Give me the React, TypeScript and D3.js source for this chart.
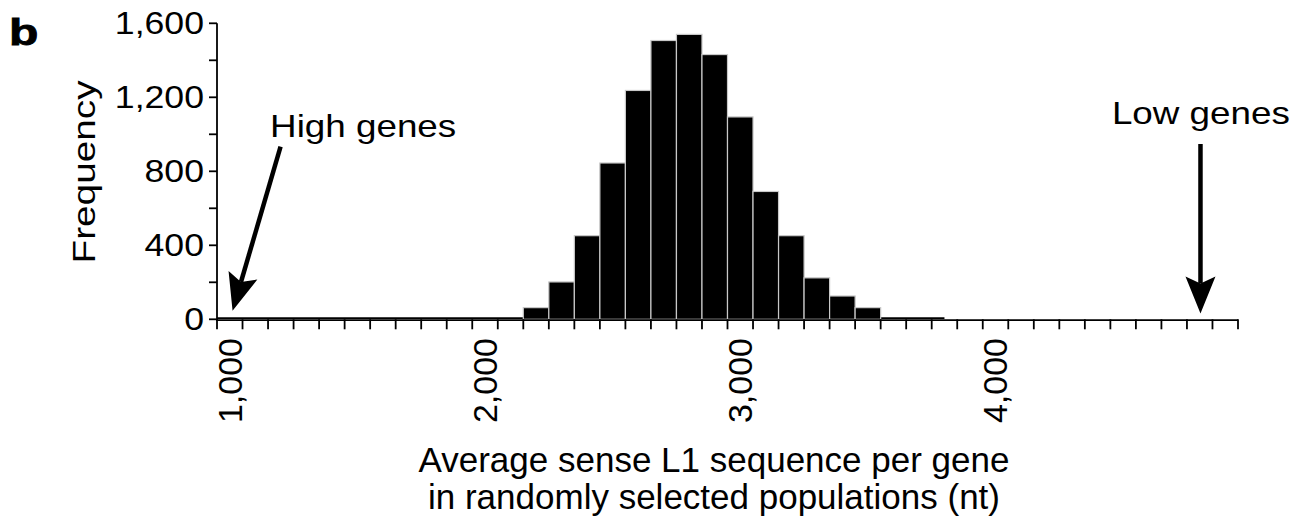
import React from 'react';
import * as d3 from 'd3';

// ---- data ----
const binStart = 950;
const binWidth = 100;
const binCounts = [0, 0, 0, 0, 0, 0, 0, 0, 0, 0, 0, 0, 63, 202, 452, 845, 1237, 1507, 1540, 1431, 1094, 691, 452, 224, 126, 63];
const histogramLineEnd = 3800;
const xDomain = [950, 4950];
const xTickStep = 100;
const xLabelValues = [1000, 2000, 3000, 4000];
const yDomain = [0, 1600];
const yTickStep = 200;
const yLabelValues = [0, 400, 800, 1200, 1600];
const xTitleLines = ['Average sense L1 sequence per gene', 'in randomly selected populations (nt)'];
const yTitle = 'Frequency';
const panelLabel = 'b';
const annotationLabels = ['High genes', 'Low genes'];
const annotationTextX = [1158, 4456];
const annotationTextY = [985, 1056];
const arrowFromX = [1199, 4803];
const arrowFromY = [933, 947];
const arrowToX = [1011, 4803];
const arrowToY = [46, 32];

const FONT = '"Liberation Sans", Arial, Helvetica, sans-serif';

function Arrow({ x1, y1, x2, y2 }: { x1: number; y1: number; x2: number; y2: number }) {
  const dx = x2 - x1, dy = y2 - y1;
  const len = Math.hypot(dx, dy);
  const ux = dx / len, uy = dy / len;
  const nx = -uy, ny = ux;
  const headLen = 37, halfW = 15, notch = 7;
  const bx = x2 - ux * headLen, by = y2 - uy * headLen;
  const mx = x2 - ux * (headLen - notch), my = y2 - uy * (headLen - notch);
  const head = `M${x2},${y2}L${bx + nx * halfW},${by + ny * halfW}L${mx},${my}L${bx - nx * halfW},${by - ny * halfW}Z`;
  return (
    <g>
      <line x1={x1} y1={y1} x2={mx} y2={my} stroke="#000" strokeWidth={4.5} />
      <path d={head} fill="#000" />
    </g>
  );
}

export default function App() {
  const x = d3.scaleLinear().domain(xDomain).range([217, 1238]);
  const y = d3.scaleLinear().domain(yDomain).range([319.3, 23.3]);
  const fmt = d3.format(',');
  const xTicks = d3.range(xDomain[0], xDomain[1] + 1, xTickStep);
  const yTicks = d3.range(yDomain[0], yDomain[1] + 1, yTickStep);
  const y0 = y(0);
  const bins = binCounts.map((c, i) => ({ x0: binStart + i * binWidth, x1: binStart + (i + 1) * binWidth, c }));

  return (
    <svg width={1299} height={526} style={{ position: 'absolute', left: 0, top: 0, display: 'block', background: '#fff' }} fontFamily={FONT}>
      {/* histogram zero line */}
      <line x1={x(binStart)} x2={x(histogramLineEnd)} y1={y0 - 1.2} y2={y0 - 1.2} stroke="#000" strokeWidth={1.6} />
      {/* bars */}
      {bins.filter(b => b.c > 0).map((b, i) => (
        <rect key={i} x={x(b.x0)} y={y(b.c)} width={x(b.x1) - x(b.x0)} height={y0 - y(b.c)} fill="#000" stroke="#c8c8c8" strokeWidth={1.2} />
      ))}
      {/* x axis */}
      <line x1={x(xDomain[0])} x2={x(xDomain[1])} y1={y0 + 0.8} y2={y0 + 0.8} stroke="#000" strokeWidth={1.8} />
      {xTicks.map(t => (
        <line key={t} x1={x(t)} x2={x(t)} y1={y0} y2={y0 + 10} stroke="#000" strokeWidth={1.8} />
      ))}
      {xLabelValues.map(v => (
        <text key={v} transform={`translate(${x(v)},338) rotate(-90)`} textAnchor="end" dy="0.35em" fontSize={34} fill="#000">{fmt(v)}</text>
      ))}
      {/* y axis */}
      <line x1={217} x2={217} y1={y(yDomain[1])} y2={y0 + 1.7} stroke="#000" strokeWidth={1.8} />
      {yTicks.map(t => (
        <line key={t} x1={209} x2={217} y1={y(t)} y2={y(t)} stroke="#000" strokeWidth={1.8} />
      ))}
      {yLabelValues.map(v => (
        <text key={v} transform={`translate(204,${y(v)}) scale(1.15,1)`} textAnchor="end" dy="0.35em" fontSize={31} fill="#000">{fmt(v)}</text>
      ))}
      {/* titles */}
      <text transform="translate(95,172) rotate(-90) scale(1.27,1)" textAnchor="middle" fontSize={30.5} fill="#000">{yTitle}</text>
      {xTitleLines.map((l, i) => (
        <text key={i} x={714} y={472 + i * 37} textAnchor="middle" fontSize={35} fill="#000">{l}</text>
      ))}
      <text transform="translate(9,45) scale(1.3,1)" fontSize={37} fontWeight={900} stroke="#000" strokeWidth={0.8} fill="#000">{panelLabel}</text>
      {/* annotations */}
      {annotationLabels.map((l, i) => (
        <g key={l}>
          <text transform={`translate(${x(annotationTextX[i])},${y(annotationTextY[i])}) scale(1.15,1)`} fontSize={32} fill="#000">{l}</text>
          <Arrow x1={x(arrowFromX[i])} y1={y(arrowFromY[i])} x2={x(arrowToX[i])} y2={y(arrowToY[i])} />
        </g>
      ))}
    </svg>
  );
}
